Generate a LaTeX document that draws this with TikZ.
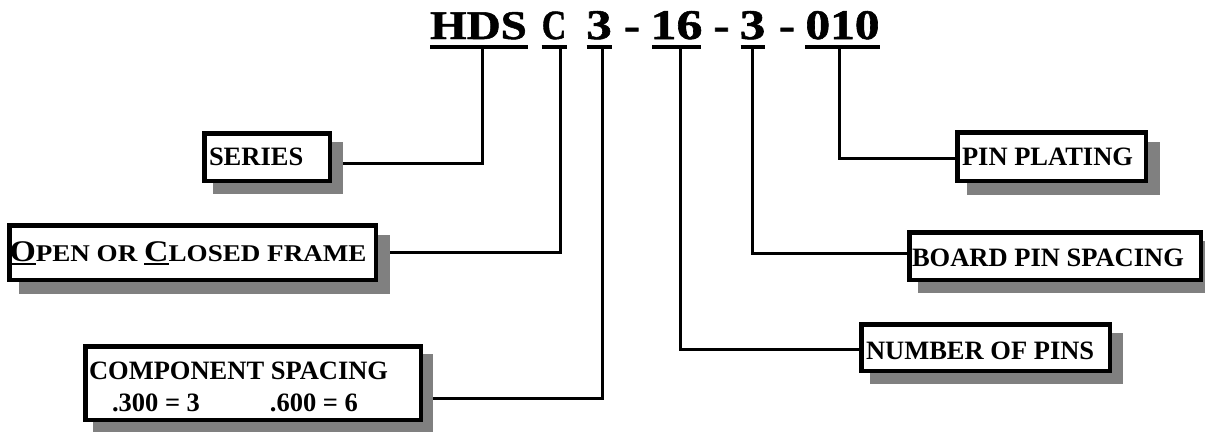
\documentclass[tikz,border=0pt]{standalone}
\usepackage{fontspec}
\setmainfont{Liberation Serif}
\newfontfamily\ttlfam{Liberation Serif}[FakeBold=1.2]
\usepackage{graphicx}
\usetikzlibrary{backgrounds}
\newcommand\ttlfont{\ttlfam\fontsize{40}{44}\selectfont\bfseries}
\newcommand\lblfont{\fontsize{26.5}{30}\selectfont\bfseries}
\newcommand\ocul[1]{\setbox0\hbox{#1}\rlap{\rule[-3.8pt]{\wd0}{2.6pt}}\box0}
\tikzset{
  box/.style={draw, line width=4.5pt, fill=white, rectangle, inner ysep=0pt, anchor=north west, font=\lblfont},
  conn/.style={line width=3pt, line join=miter},
  shade/.style={fill=black!50},
  ttl/.style={anchor=base, inner sep=0pt, font=\ttlfont},
  uline/.style={line width=3.4pt},
}
\begin{document}
\begin{tikzpicture}[x=1pt, y=-1pt]
\useasboundingbox (0,0) rectangle (1205,432);
% title
\node[ttl] (tA) at (478.5,39) {\resizebox{96.7pt}{27pt}{HDS}};
\node[ttl] (tB) at (554,39) {\resizebox{24.5pt}{27.5pt}{C}};
\node[ttl] (tC) at (599,39) {\resizebox{25.5pt}{28pt}{3}};
\node[ttl] (tD) at (632,39) {\scalebox{1.2}[1]{-}};
\node[ttl] (tE) at (676.5,39) {\resizebox{52pt}{28pt}{16}};
\node[ttl] (tF) at (721.5,39) {\scalebox{1.2}[1]{-}};
\node[ttl] (tG) at (752.5,39) {\resizebox{25.5pt}{28pt}{3}};
\node[ttl] (tH) at (787,39) {\scalebox{1.2}[1]{-}};
\node[ttl] (tI) at (842.5,39) {\resizebox{74pt}{28pt}{010}};
\draw[uline] (430,47) -- (528,47);
\draw[uline] (541.7,47) -- (566.7,47);
\draw[uline] (586.7,47) -- (611.7,47);
\draw[uline] (652,47) -- (701,47);
\draw[uline] (740.7,47) -- (765,47);
\draw[uline] (805,47) -- (880,47);
\coordinate (kA) at (482,47);
\coordinate (kB) at (560,47);
\coordinate (kC) at (602,47);
\coordinate (kE) at (680,47);
\coordinate (kG) at (752.5,47);
\coordinate (kI) at (839,47);
% boxes
\node[box, minimum width=125.5pt, minimum height=47.5pt, inner xsep=4.75pt, text height=16pt, text depth=0pt] (series) at (202,131) {\makebox[116pt][l]{SERIES}};
\node[box, minimum width=366.5pt, minimum height=54.5pt, inner xsep=0.25pt, text height=18pt, text depth=0pt] (frame) at (7,223) {\makebox[366pt][l]{\resizebox{357pt}{\height}{{\fontsize{30}{30}\selectfont\ocul{O}}{\fontsize{24}{24}\selectfont PEN OR }{\fontsize{30}{30}\selectfont\ocul{C}}{\fontsize{24}{24}\selectfont LOSED FRAME}}}};
\node[box, minimum width=335.5pt, minimum height=73.5pt, inner xsep=3.75pt, text height=17.5pt, text depth=24.9pt] (comp) at (83,344) {\vtop{\baselineskip=32pt\hbox to 328pt{COMPONENT SPACING\hfil}\hbox to 328pt{\hspace*{23pt}\makebox[158pt][l]{.300 = 3}.600 = 6\hfil}}};
\node[box, minimum width=188.5pt, minimum height=48.5pt, inner xsep=4.75pt, text height=17pt, text depth=0pt] (plating) at (955,130) {\makebox[179pt][l]{PIN PLATING}};
\node[box, minimum width=291.5pt, minimum height=47.5pt, inner xsep=2.75pt, text height=20pt, text depth=0pt] (board) at (907,230) {\makebox[286pt][l]{BOARD PIN SPACING}};
\node[box, minimum width=248.5pt, minimum height=46.5pt, inner xsep=4.75pt, text height=23.6pt, text depth=0pt] (pins) at (859,322) {\makebox[239pt][l]{NUMBER OF PINS}};
\begin{scope}[on background layer]
\draw[conn] (kA) |- ([yshift=-6pt]series.east);
\draw[conn] (kB) |- (frame.east);
\draw[conn] (kC) |- ([yshift=-15pt]comp.east);
\draw[conn] (kI) |- ([yshift=-1.5pt]plating.west);
\draw[conn] (kG) |- ([yshift=3pt]board.west);
\draw[conn] (kE) |- ([yshift=-1.5pt]pins.west);
\foreach \n/\d in {series/11pt, frame/11.5pt, comp/10pt, plating/11.5pt, board/11pt, pins/11pt}{
  \fill[shade] ([shift={(\d,-\d)}]\n.north west) rectangle ([shift={(\d,-\d)}]\n.south east);
}
\end{scope}
\end{tikzpicture}
\end{document}
